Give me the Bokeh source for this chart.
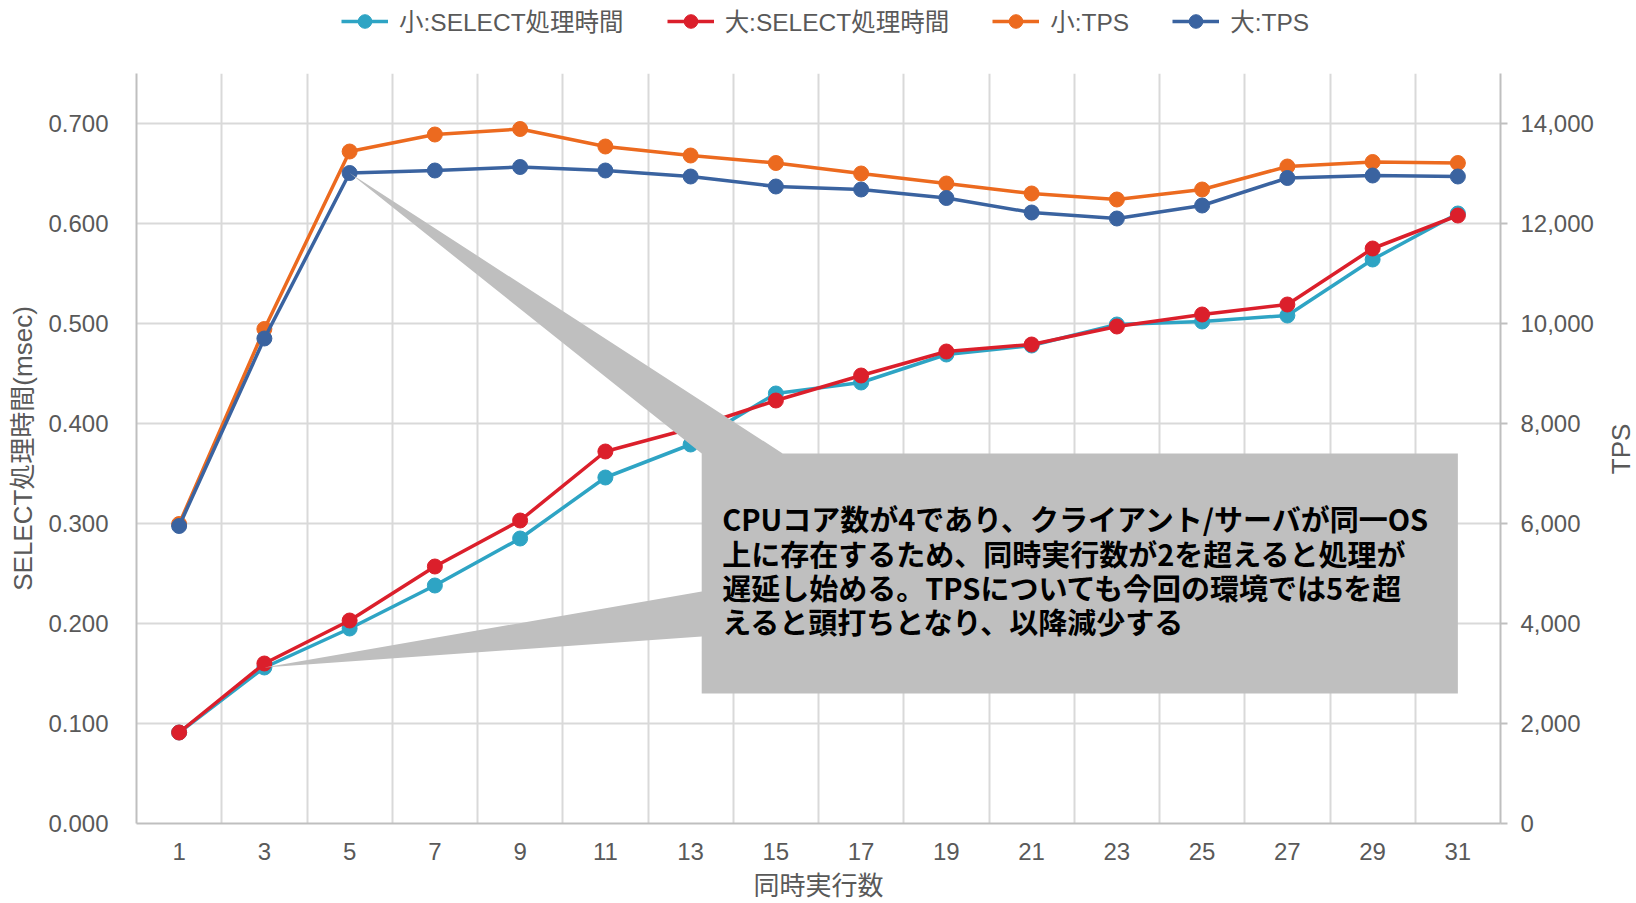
import math

from bokeh.core.properties import value
from bokeh.embed import file_html
from bokeh.layouts import column, row
from bokeh.models import (FixedTicker, Legend, LegendItem, LinearAxis,
                          NumeralTickFormatter, Range1d)
from bokeh.plotting import figure
from bokeh.resources import INLINE

# ---- data -------------------------------------------------------------
threads = [1, 3, 5, 7, 9, 11, 13, 15, 17, 19, 21, 23, 25, 27, 29, 31]

small_select_ms = [0.091, 0.156, 0.195, 0.238, 0.285, 0.346, 0.379, 0.430,
                   0.441, 0.469, 0.478, 0.499, 0.502, 0.508, 0.564, 0.610]
large_select_ms = [0.091, 0.160, 0.203, 0.257, 0.303, 0.372, 0.395, 0.423,
                   0.448, 0.472, 0.479, 0.497, 0.509, 0.519, 0.575, 0.608]
small_tps = [5990, 9890, 13440, 13780, 13890, 13540, 13360, 13210,
             13000, 12800, 12600, 12480, 12680, 13140, 13230, 13210]
large_tps = [5950, 9700, 13010, 13060, 13130, 13060, 12940, 12740,
             12680, 12510, 12220, 12100, 12360, 12910, 12960, 12940]

series_names = ["小:SELECT処理時間", "大:SELECT処理時間", "小:TPS", "大:TPS"]
series_colors = ["#2EA4C4", "#DB1F2B", "#EC6A1F", "#3A63A0"]

x_title = "同時実行数"
y_title = "SELECT処理時間(msec)"
y2_title = "TPS"

callout_lines = [
    "CPUコア数が4であり、クライアント/サーバが同一OS",
    "上に存在するため、同時実行数が2を超えると処理が",
    "遅延し始める。TPSについても今回の環境では5を超",
    "えると頭打ちとなり、以降減少する",
]

# ---- layout constants -------------------------------------------------
SEL_MAX = 0.75
TPS_MAX = 15000
TOTAL_W, TOTAL_H = 1636, 903
LEGEND_H = 42
SIDE_W = 40
MAIN_W, MAIN_H = TOTAL_W - SIDE_W, TOTAL_H - LEGEND_H
LATIN = "Liberation Sans, Noto Sans CJK JP"
CJK = "Noto Sans CJK JP"
GREY_TEXT = "#595959"
GRID = "#D9D9D9"
AXIS = "#BFBFBF"

xs = list(range(len(threads)))


def bare_figure(w, h):
    f = figure(width=w, height=h, output_backend="svg", toolbar_location=None,
               x_range=Range1d(0, 1), y_range=Range1d(0, 1),
               x_axis_type=None, y_axis_type=None,
               min_border=0, min_border_left=0, min_border_right=0,
               min_border_top=0, min_border_bottom=0)
    f.xgrid.visible = False
    f.ygrid.visible = False
    f.outline_line_color = None
    f.background_fill_color = "white"
    f.border_fill_color = "white"
    return f


# ---- main chart -------------------------------------------------------
p = figure(width=MAIN_W, height=MAIN_H, output_backend="svg",
           toolbar_location=None,
           x_range=Range1d(-0.5, len(threads) - 0.5),
           y_range=Range1d(0, SEL_MAX),
           min_border_left=136, min_border_right=96,
           min_border_top=31, min_border_bottom=80)
p.extra_y_ranges = {"tps": Range1d(0, TPS_MAX)}
p.outline_line_color = None
p.background_fill_color = "white"
p.border_fill_color = "white"

# grid: vertical lines between categories, horizontal at left-axis ticks
p.xgrid.ticker = FixedTicker(ticks=[i + 0.5 for i in xs[:-1]])
p.ygrid.ticker = FixedTicker(ticks=[0.1 * k for k in range(1, 8)])
for g in (p.xgrid, p.ygrid):
    g.grid_line_color = GRID
    g.grid_line_width = 2

xa = p.xaxis[0]
xa.ticker = FixedTicker(ticks=xs)
xa.major_label_overrides = {i: str(t) for i, t in zip(xs, threads)}
xa.axis_label = x_title

ya = p.yaxis[0]
ya.ticker = FixedTicker(ticks=[0.1 * k for k in range(0, 8)])
ya.formatter = NumeralTickFormatter(format="0.000")
ya.axis_label = y_title

ra = LinearAxis(y_range_name="tps",
                ticker=FixedTicker(ticks=list(range(0, 14001, 2000))),
                formatter=NumeralTickFormatter(format="0,0"))
p.add_layout(ra, "right")

for ax in (xa, ya, ra):
    ax.axis_line_color = AXIS
    ax.axis_line_width = 2
    ax.minor_tick_line_color = None
    ax.major_label_text_font = LATIN
    ax.major_label_text_font_size = "24px"
    ax.major_label_text_color = GREY_TEXT
    ax.axis_label_text_font = LATIN
    ax.axis_label_text_font_size = "26px"
    ax.axis_label_text_font_style = "normal"
    ax.axis_label_text_color = GREY_TEXT

xa.major_tick_line_color = None
xa.major_tick_out = 0
xa.major_tick_in = 0
xa.major_label_standoff = 19
xa.axis_label_standoff = 8

ya.major_tick_line_color = None
ya.major_tick_out = 0
ya.major_tick_in = 0
ya.major_label_standoff = 28
ya.axis_label_standoff = 7

ra.major_tick_line_color = AXIS
ra.major_tick_line_width = 2
ra.major_tick_out = 7
ra.major_tick_in = 0
ra.major_label_standoff = 13

series = [
    (small_select_ms, "default"),
    (large_select_ms, "default"),
    (small_tps, "tps"),
    (large_tps, "tps"),
]
for (vals, rng), color in zip(series, series_colors):
    p.line(xs, vals, line_color=color, line_width=3.5, y_range_name=rng)
    p.scatter(xs, vals, size=15, marker="circle", fill_color=color,
              line_color=color, y_range_name=rng)

# callout box with two pointers
box_left, box_right = 6.13, 15.0
box_top, box_bottom = 0.370, 0.130
upper_wedge_right = 7.08          # where the upper pointer meets the box top
lower_wedge_top, lower_wedge_bottom = 0.232, 0.187

tip1 = (xs[2], large_tps[2] / TPS_MAX * SEL_MAX)   # 大:TPS at 5
tip2 = (xs[1], small_select_ms[1])                 # 小:SELECT at 3

callout_x = [box_left, tip1[0], upper_wedge_right, box_right, box_right,
             box_left, box_left, tip2[0], box_left]
callout_y = [box_top, tip1[1], box_top, box_top, box_bottom,
             box_bottom, lower_wedge_bottom, tip2[1], lower_wedge_top]
p.patch(callout_x, callout_y, fill_color="#BFBFBF", line_color=None)

line_y = [0.3054, 0.2710, 0.2366, 0.2022]
p.text(x=[6.37] * len(callout_lines), y=line_y, text=callout_lines,
       text_font=value(CJK), text_font_style="bold", text_font_size="29px",
       text_color="black", text_baseline="middle", text_align="left")

# ---- legend strip across the top ----------------------------------------
# each key gets one off-screen sample so its line and marker are drawn
lg = bare_figure(TOTAL_W, LEGEND_H)
items = []
for name, color in zip(series_names, series_colors):
    ln = lg.line([-5, -4], [-5, -5], line_color=color, line_width=3.5)
    mk = lg.scatter([-5], [-5], size=15, marker="circle", fill_color=color,
                    line_color=color)
    items.append(LegendItem(label=name, renderers=[ln, mk]))
legend = Legend(items=items, orientation="horizontal", location=(341, 4),
                glyph_width=47, glyph_height=34, label_standoff=11, spacing=43,
                padding=0, margin=0, border_line_color=None,
                background_fill_alpha=0,
                label_text_font=LATIN, label_text_font_size="24.5px",
                label_text_color=GREY_TEXT)
lg.add_layout(legend, "center")

# ---- secondary axis title strip -----------------------------------------
side = bare_figure(SIDE_W, MAIN_H)
title_y = 1 - (448 + 25 - LEGEND_H) / MAIN_H
side.text(x=[0.6], y=[title_y], text=[y2_title], angle=math.pi / 2,
          text_font=value(LATIN), text_font_size="26px",
          text_color=GREY_TEXT, text_align="center", text_baseline="middle")

page = column(lg, row(p, side, spacing=0), spacing=0)
open("out.html", "w").write(file_html(page, INLINE))
